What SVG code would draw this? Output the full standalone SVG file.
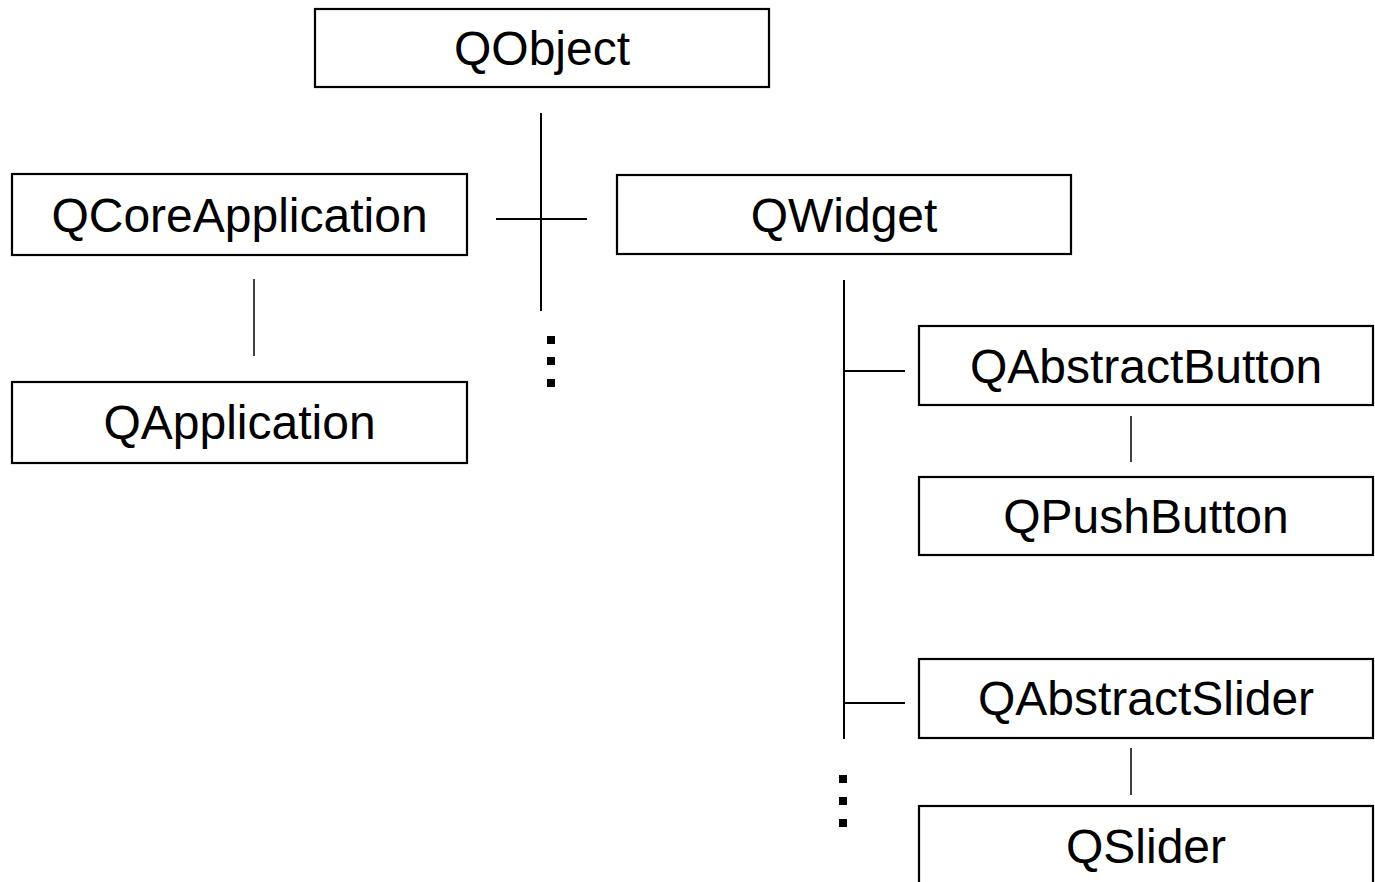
<svg xmlns="http://www.w3.org/2000/svg" width="1375" height="882" viewBox="0 0 1375 882">
<style>
.box{fill:#fff;stroke:#000;stroke-width:2.2}
.lbl{font-family:"Liberation Sans",Arial,sans-serif;font-size:48px;fill:#000;text-anchor:middle}
.c{stroke:#000;stroke-width:2;fill:none}
.t{stroke:#000;stroke-width:1.5;fill:none}
.dot{fill:#000}
</style>
<rect width="1375" height="882" fill="#fff"/>
<g id="connectors">
<line class="c" x1="541" y1="113" x2="541" y2="311"/>
<line class="c" x1="496" y1="219" x2="587" y2="219"/>
<line class="t" x1="254" y1="279" x2="254" y2="356"/>
<line class="c" x1="844" y1="280" x2="844" y2="739"/>
<line class="c" x1="844" y1="371" x2="905" y2="371"/>
<line class="c" x1="844" y1="703" x2="905" y2="703"/>
<line class="t" x1="1131" y1="416" x2="1131" y2="462"/>
<line class="t" x1="1131" y1="748" x2="1131" y2="795"/>
<rect class="dot" x="547" y="336" width="8" height="8"/>
<rect class="dot" x="547" y="357" width="8" height="8"/>
<rect class="dot" x="547" y="379" width="8" height="8"/>
<rect class="dot" x="839" y="775" width="8" height="8"/>
<rect class="dot" x="839" y="797" width="8" height="8"/>
<rect class="dot" x="839" y="819" width="8" height="8"/>
</g>
<g id="QObject"><rect class="box" x="315" y="9" width="454" height="78"/><text class="lbl" x="542" y="65">QObject</text></g>
<g id="QCoreApplication"><rect class="box" x="12" y="174" width="455" height="81"/><text class="lbl" x="239.5" y="232">QCoreApplication</text></g>
<g id="QApplication"><rect class="box" x="12" y="382" width="455" height="81"/><text class="lbl" x="239.5" y="439">QApplication</text></g>
<g id="QWidget"><rect class="box" x="617" y="175" width="454" height="79"/><text class="lbl" x="844" y="232">QWidget</text></g>
<g id="QAbstractButton"><rect class="box" x="919" y="326" width="454" height="79"/><text class="lbl" x="1146" y="383">QAbstractButton</text></g>
<g id="QPushButton"><rect class="box" x="919" y="477" width="454" height="78"/><text class="lbl" x="1146" y="533">QPushButton</text></g>
<g id="QAbstractSlider"><rect class="box" x="919" y="659" width="454" height="79"/><text class="lbl" x="1146" y="715">QAbstractSlider</text></g>
<g id="QSlider"><rect class="box" x="919" y="806" width="454" height="100"/><text class="lbl" x="1146" y="863">QSlider</text></g>
</svg>
